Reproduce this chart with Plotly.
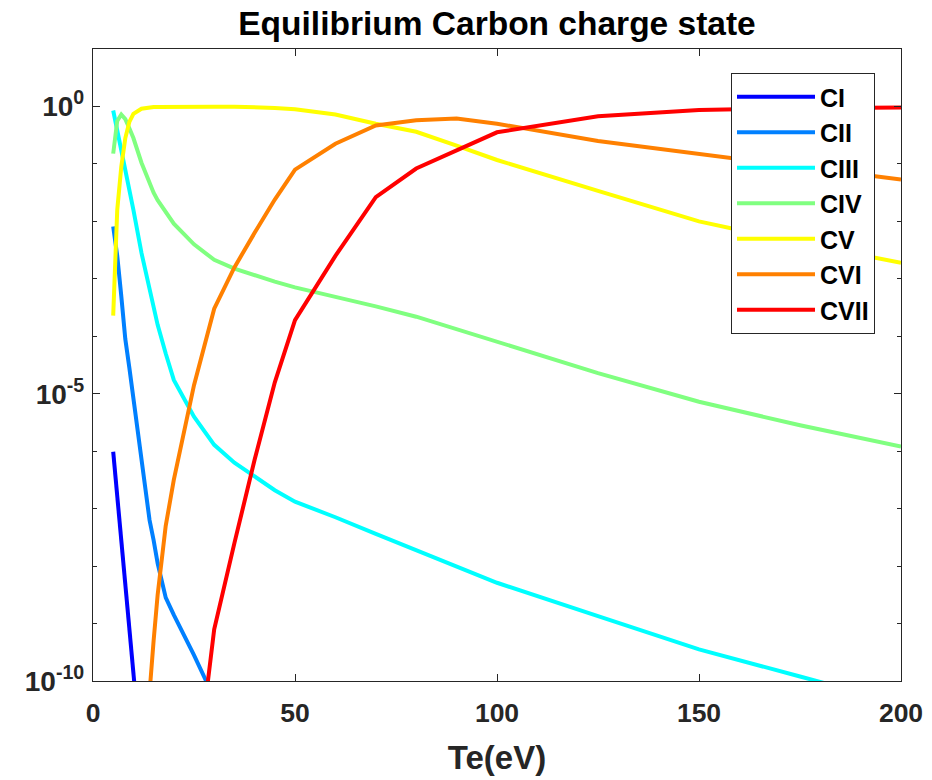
import plotly.graph_objects as go

# Electron temperature grid (eV)
Te = [5, 6, 7, 8, 9, 10, 12, 14, 15, 16, 18, 20, 25, 30, 35, 40, 45, 50,
      60, 70, 80, 90, 100, 125, 150, 175, 200]

series_names = ["CI", "CII", "CIII", "CIV", "CV", "CVI", "CVII"]
series_colors = ["#0000FF", "#0080FF", "#00FFFF", "#80FF80", "#FFFF00", "#FF8000", "#FF0000"]

N = None
CI = [9.77e-7, 1.86e-7, 3.55e-8, 6.92e-9, 1.32e-9, 2.51e-10, 3.98e-12,
      N, N, N, N, N, N, N, N, N, N, N, N, N, N, N, N, N, N, N, N]
CII = [8.13e-3, 2.51e-3, 5.01e-4, 8.91e-5, 2.82e-5, 7.94e-6, 6.31e-7, 6.31e-8,
       2.82e-8, 1.12e-8, 2.82e-9, 1.41e-9, 2.82e-10, 5.01e-11,
       N, N, N, N, N, N, N, N, N, N, N, N, N]
CIII = [0.851, 0.398, 0.178, 0.0794, 0.0355, 0.0158, 2.82e-3, 6.31e-4, 3.16e-4,
        1.58e-4, 5.01e-5, 1.74e-5, 3.98e-6, 1.29e-6, 6.31e-7, 3.55e-7, 2.09e-7,
        1.32e-7, 7.08e-8, 3.63e-8, 1.91e-8, 1.0e-8, 5.13e-9, 1.35e-9, 3.55e-10,
        1.20e-10, 3.98e-11]
CIV = [0.151, 0.562, 0.724, 0.603, 0.417, 0.282, 0.105, 0.0437, 0.0316, 0.0234,
       0.0141, 9.12e-3, 3.98e-3, 2.14e-3, 1.51e-3, 1.15e-3, 8.91e-4, 7.08e-4,
       4.90e-4, 3.31e-4, 2.19e-4, 1.32e-4, 7.94e-5, 2.29e-5, 7.24e-6, 2.82e-6,
       1.20e-6]
CV = [2.29e-4, 0.0158, 0.0891, 0.282, 0.537, 0.741, 0.912, 0.966, 0.977, 0.982,
      0.989, 0.991, 0.993, 0.993, 0.991, 0.977, 0.944, 0.891, 0.724, 0.501,
      0.363, 0.209, 0.117, 0.0339, 0.01, 4.17e-3, 1.91e-3]
CVI = [N, N, N, N, N, N, 1e-12, 7.94e-11, 5.01e-10, 3.16e-9, 5.01e-8, 3.16e-7,
       1.41e-5, 3.02e-4, 1.58e-3, 6.31e-3, 0.0240, 0.0794, 0.224, 0.468, 0.575,
       0.617, 0.501, 0.251, 0.148, 0.0891, 0.0537]
CVII = [N, N, N, N, N, N, N, N, N, N, N, N, 1e-12, 7.94e-10, 2.51e-8, 7.08e-7,
        1.58e-5, 1.91e-4, 2.51e-3, 0.0263, 0.0832, 0.174, 0.355, 0.676, 0.871,
        0.933, 0.955]

series_values = [CI, CII, CIII, CIV, CV, CVI, CVII]

x_ticks = [0, 50, 100, 150, 200]
y_ticks = [1e-10, 1e-5, 1]
y_ticktext = ["10<sup>-10</sup>", "10<sup>-5</sup>", "10<sup>0</sup>"]
y_minor = [1e-9, 1e-8, 1e-7, 1e-6, 1e-4, 1e-3, 1e-2, 1e-1]

FONT = "Liberation Sans, Arial, Helvetica, sans-serif"
AX = "#262626"

fig = go.Figure()
for name, color, vals in zip(series_names, series_colors, series_values):
    fig.add_trace(go.Scatter(x=Te, y=vals, mode="lines", name=name,
                             legendgroup=name,
                             line=dict(color=color, width=4),
                             connectgaps=False))

fig.update_layout(
    width=932, height=780,
    margin=dict(l=93, r=31, t=49, b=99, autoexpand=False),
    paper_bgcolor="white", plot_bgcolor="white",
    font=dict(family=FONT, color=AX),
    title=dict(text="Equilibrium Carbon charge state", x=497 / 932, xanchor="center",
               y=1 - 23 / 780, yanchor="middle",
               font=dict(family=FONT, size=33.5, color="black", weight="bold")),
    xaxis=dict(range=[0, 200], tickmode="array", tickvals=x_ticks,
               ticks="inside", ticklen=7, tickwidth=1, tickcolor=AX,
               showline=True, linecolor=AX, linewidth=1.3, mirror="ticks",
               showgrid=False, zeroline=False, ticklabelstandoff=8,
               automargin=False,
               tickfont=dict(family=FONT, size=26.5, color=AX, weight="bold"),
               title=dict(text="Te(eV)", standoff=18,
                          font=dict(family=FONT, size=33, color=AX, weight="bold"))),
    yaxis=dict(type="log", range=[-10, 1], tickmode="array", tickvals=y_ticks,
               ticktext=y_ticktext,
               ticks="inside", ticklen=7, tickwidth=1, tickcolor=AX,
               showline=True, linecolor=AX, linewidth=1.3, mirror="ticks",
               showgrid=False, zeroline=False, ticklabelstandoff=2,
               automargin=False,
               minor=dict(tickmode="array", tickvals=y_minor, ticks="inside",
                          ticklen=4, tickwidth=1, tickcolor=AX, showgrid=False),
               tickfont=dict(family=FONT, size=28, color=AX, weight="bold")),
    legend=dict(x=(731 - 93) / 808, y=1 - (73 - 49) / 632, xanchor="left", yanchor="top",
                bgcolor="white", bordercolor=AX, borderwidth=1,
                font=dict(family=FONT, size=25, color="black", weight="bold"),
                tracegroupgap=6, itemwidth=78, traceorder="normal"),
    showlegend=True,
)

fig.write_html("out.html")
